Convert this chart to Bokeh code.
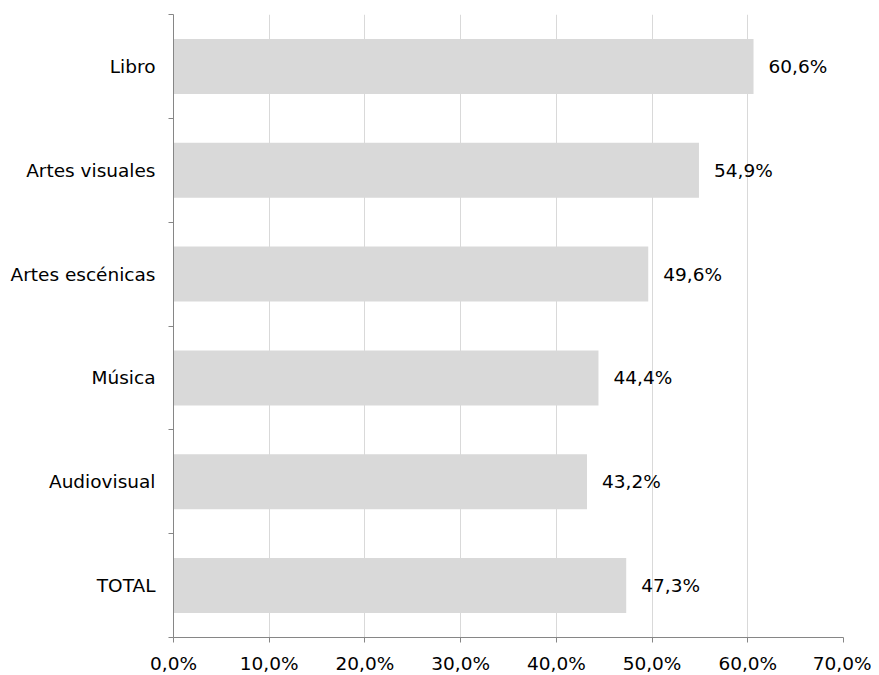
from bokeh.plotting import figure
from bokeh.models import Range1d, FixedTicker, ColumnDataSource
from bokeh.core.properties import value
from bokeh.embed import file_html
from bokeh.resources import INLINE

categories = ["TOTAL", "Audiovisual", "Música", "Artes escénicas", "Artes visuales", "Libro"]
values = [47.3, 43.2, 44.4, 49.6, 54.9, 60.6]
x_ticks = [0, 10, 20, 30, 40, 50, 60, 70]
x_tick_labels = ["0,0%", "10,0%", "20,0%", "30,0%", "40,0%", "50,0%", "60,0%", "70,0%"]

FONT = "DejaVu Sans"
FS = "18.5px"

ypos = [i + 0.5 for i in range(len(categories))]
labels = [("%.1f" % v).replace(".", ",") + "%" for v in values]
src = ColumnDataSource(dict(y=ypos, v=values, lab=labels))

p = figure(frame_width=670, frame_height=623, output_backend="svg", toolbar_location=None,
           x_range=Range1d(0, 70), y_range=Range1d(0, len(categories)),
           min_border_left=173, min_border_right=28, min_border_top=14, min_border_bottom=10)
p.outline_line_color = None
p.background_fill_color = "white"

p.hbar(y="y", right="v", left=0, height=0.53, source=src, fill_color="#d9d9d9", line_color=None)
p.text(x="v", y="y", text="lab", source=src, x_offset=15, text_baseline="middle", text_align="left",
       text_font=value(FONT), text_font_size=FS, text_color="#000000")

# x axis
p.xaxis.ticker = FixedTicker(ticks=x_ticks)
p.xaxis.major_label_overrides = {t: l for t, l in zip(x_ticks, x_tick_labels)}
p.xaxis.major_tick_out = 5
p.xaxis.major_tick_in = 0
p.xaxis.minor_tick_line_color = None
p.xaxis.axis_line_color = "#868686"
p.xaxis.major_tick_line_color = "#868686"
p.xaxis.major_label_text_font = FONT
p.xaxis.major_label_text_font_size = FS
p.xaxis.major_label_text_color = "#000000"
p.xaxis.major_label_standoff = 10

# y axis
p.yaxis.ticker = FixedTicker(ticks=ypos, minor_ticks=list(range(len(categories) + 1)))
p.yaxis.major_label_overrides = {y: c for y, c in zip(ypos, categories)}
p.yaxis.major_tick_out = 0
p.yaxis.major_tick_in = 0
p.yaxis.minor_tick_out = 5
p.yaxis.minor_tick_in = 0
p.yaxis.axis_line_color = "#868686"
p.yaxis.minor_tick_line_color = "#868686"
p.yaxis.major_label_text_font = FONT
p.yaxis.major_label_text_font_size = FS
p.yaxis.major_label_text_color = "#000000"
p.yaxis.major_label_standoff = 13

p.xgrid.ticker = FixedTicker(ticks=x_ticks[1:])
p.xgrid.grid_line_color = "#d9d9d9"
p.ygrid.grid_line_color = None

open("out.html", "w").write(file_html(p, INLINE))
